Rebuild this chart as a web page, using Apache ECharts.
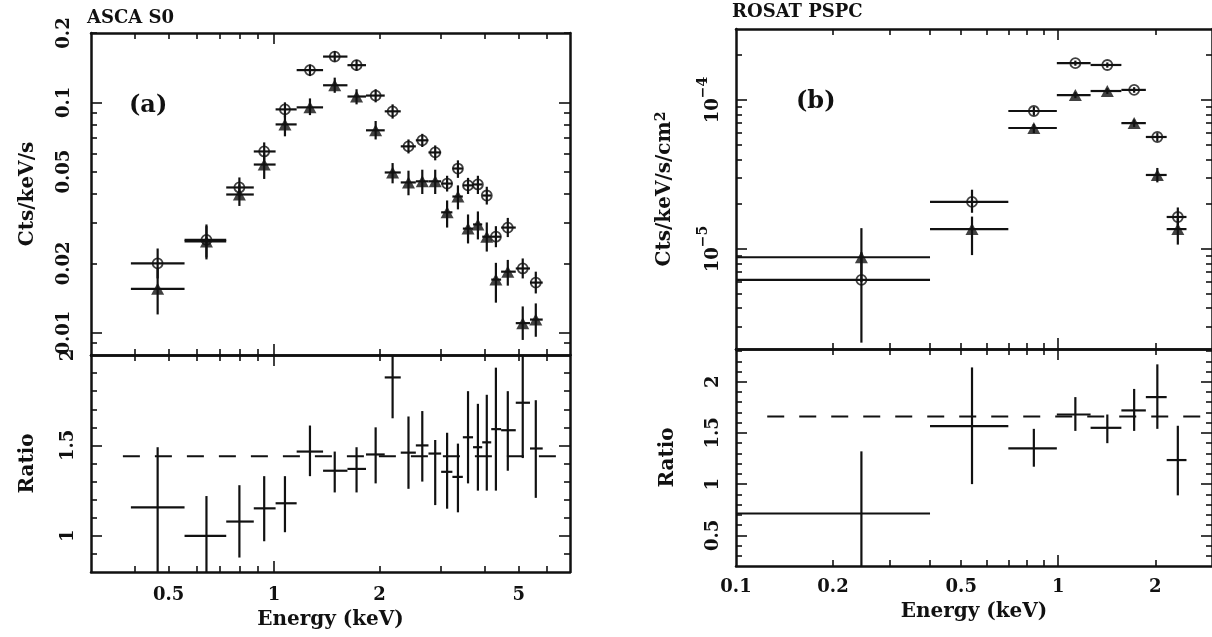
<!DOCTYPE html>
<html>
<head>
<meta charset="utf-8">
<script src="https://cdn.jsdelivr.net/npm/echarts@6/dist/echarts.min.js"></script>
<style>
  html, body { margin: 0; padding: 0; background: #fff; }
  #chart { width: 1212px; height: 637px; }
</style>
</head>
<body>
<div id="chart"></div>
<script>
// ---- ASCA S0 (panel a) ----
var ascaE    = [0.465, 0.641, 0.796, 0.937, 1.074, 1.266, 1.49, 1.72, 1.95, 2.18, 2.42, 2.65, 2.885, 3.12, 3.35, 3.58, 3.82, 4.05, 4.30, 4.65, 5.13, 5.59];
var ascaElo  = [0.39, 0.555, 0.73, 0.875, 1.01, 1.16, 1.38, 1.62, 1.83, 2.07, 2.3, 2.54, 2.76, 3.0, 3.23, 3.46, 3.7, 3.93, 4.17, 4.45, 4.9, 5.38];
var ascaEhi  = [0.555, 0.73, 0.875, 1.01, 1.16, 1.38, 1.62, 1.83, 2.07, 2.3, 2.54, 2.76, 3.0, 3.23, 3.46, 3.7, 3.93, 4.17, 4.45, 4.9, 5.38, 5.85];
var ascaCirc   = [0.0200, 0.0253, 0.0427, 0.0612, 0.0932, 0.138, 0.158, 0.145, 0.107, 0.0914, 0.0644, 0.0684, 0.0606, 0.0444, 0.0516, 0.0436, 0.0440, 0.0394, 0.0261, 0.0286, 0.0190, 0.0165];
var ascaCircLo = [0.0172, 0.0212, 0.0390, 0.0560, 0.0860, 0.130, 0.150, 0.137, 0.100, 0.085, 0.060, 0.064, 0.056, 0.041, 0.047, 0.040, 0.040, 0.036, 0.0235, 0.026, 0.0172, 0.0148];
var ascaCircHi = [0.0232, 0.0295, 0.0472, 0.0670, 0.1000, 0.146, 0.167, 0.153, 0.114, 0.098, 0.069, 0.073, 0.065, 0.048, 0.056, 0.047, 0.048, 0.043, 0.029, 0.0315, 0.0210, 0.0184];
var ascaTri    = [0.0155, 0.0249, 0.0398, 0.0537, 0.0802, 0.0951, 0.1186, 0.106, 0.0756, 0.0496, 0.0449, 0.0454, 0.0454, 0.0333, 0.0390, 0.0283, 0.0295, 0.0261, 0.0170, 0.0184, 0.0110, 0.0114];
var ascaTriLo  = [0.0120, 0.0208, 0.0355, 0.0465, 0.0712, 0.0880, 0.110, 0.098, 0.0690, 0.0445, 0.0395, 0.040, 0.040, 0.0286, 0.0343, 0.0244, 0.0254, 0.0225, 0.0135, 0.0160, 0.0093, 0.0096];
var ascaTriHi  = [0.0190, 0.0290, 0.0440, 0.060, 0.088, 0.104, 0.128, 0.114, 0.083, 0.0545, 0.0505, 0.051, 0.051, 0.0375, 0.0436, 0.0326, 0.0336, 0.0301, 0.0201, 0.0207, 0.0130, 0.0134];
var ascaRatio   = [1.157, 1.0, 1.079, 1.152, 1.18, 1.466, 1.36, 1.37, 1.45, 1.876, 1.46, 1.5, 1.455, 1.354, 1.326, 1.545, 1.49, 1.517, 1.59, 1.584, 1.736, 1.483];
var ascaRatioLo = [0.78, 0.78, 0.88, 0.97, 1.02, 1.33, 1.24, 1.24, 1.29, 1.65, 1.26, 1.3, 1.17, 1.15, 1.13, 1.29, 1.25, 1.25, 1.25, 1.36, 1.43, 1.21];
var ascaRatioHi = [1.49, 1.22, 1.28, 1.33, 1.33, 1.61, 1.466, 1.49, 1.6, 2.05, 1.66, 1.69, 1.53, 1.57, 1.51, 1.80, 1.73, 1.78, 1.93, 1.80, 2.05, 1.75];
var ascaModel = [[0.37, 1.44], [7, 1.44]];

// ---- ROSAT PSPC (panel b) ----
var rosatE   = [0.245, 0.54, 0.84, 1.13, 1.42, 1.72, 2.03, 2.35];
var rosatElo = [0.1, 0.40, 0.70, 0.99, 1.26, 1.57, 1.87, 2.17];
var rosatEhi = [0.40, 0.70, 0.99, 1.26, 1.57, 1.87, 2.17, 2.5];
var rosatCirc   = [6.2e-6, 2.07e-5, 8.44e-5, 1.77e-4, 1.72e-4, 1.17e-4, 5.65e-5, 1.64e-5];
var rosatCircLo = [2.35e-6, 1.75e-5, 7.9e-5, 1.70e-4, 1.65e-4, 1.12e-4, 5.3e-5, 1.45e-5];
var rosatCircHi = [9.5e-6, 2.5e-5, 9.0e-5, 1.84e-4, 1.79e-4, 1.22e-4, 6.0e-5, 1.9e-5];
var rosatTri    = [8.8e-6, 1.36e-5, 6.49e-5, 1.08e-4, 1.15e-4, 7.0e-5, 3.14e-5, 1.36e-5];
var rosatTriLo  = [6.0e-6, 9.1e-6, 6.0e-5, 1.03e-4, 1.10e-4, 6.6e-5, 2.8e-5, 1.07e-5];
var rosatTriHi  = [1.38e-5, 1.65e-5, 6.9e-5, 1.13e-4, 1.20e-4, 7.4e-5, 3.5e-5, 1.6e-5];
var rosatRatio   = [0.713, 1.567, 1.35, 1.68, 1.55, 1.72, 1.85, 1.235];
var rosatRatioLo = [0.15, 1.0, 1.17, 1.52, 1.40, 1.52, 1.54, 0.89];
var rosatRatioHi = [1.32, 2.14, 1.54, 1.85, 1.68, 1.93, 2.17, 1.57];
var rosatModel = [[0.125, 1.66], [3, 1.66]];

// ---- ticks and labels ----
var ascaXMinor = [0.4, 0.5, 0.6, 0.7, 0.8, 0.9, 2, 3, 4, 5, 6];
var ascaXMajor = [1];
var ascaXLabels = [0.5, 1, 2, 5];
var ascaYMinor = [0.009, 0.02, 0.03, 0.04, 0.05, 0.06, 0.07, 0.08, 0.09, 0.2];
var ascaYMajor = [0.01, 0.1];
var ascaYLabels = [0.01, 0.02, 0.05, 0.1, 0.2];
var ascaRMinor = [0.9, 1.1, 1.2, 1.3, 1.4, 1.6, 1.7, 1.8, 1.9];
var ascaRMajor = [1, 1.5];
var ascaRLabels = [1, 1.5, 2];

var rosatXMinor = [0.2, 0.3, 0.4, 0.5, 0.6, 0.7, 0.8, 0.9, 2];
var rosatXMajor = [1];
var rosatXLabels = [0.1, 0.2, 0.5, 1, 2];
var rosatYMinor = [3e-6, 4e-6, 5e-6, 6e-6, 7e-6, 8e-6, 9e-6, 2e-5, 3e-5, 4e-5, 5e-5, 6e-5, 7e-5, 8e-5, 9e-5, 2e-4];
var rosatYMajor = [1e-5, 1e-4];
var rosatYLabels = [1e-5, 1e-4];
var rosatYExp = ['\u22125', '\u22124'];
var rosatRMinor = [0.3, 0.4, 0.6, 0.7, 0.8, 0.9, 1.1, 1.2, 1.3, 1.4, 1.6, 1.7, 1.8, 1.9, 2.1, 2.2, 2.3];
var rosatRMajor = [0.5, 1, 1.5, 2];
var rosatRLabels = [0.5, 1, 1.5, 2];

var INK = '#111';
var FONT = 'DejaVu Serif';

// main axis + major-tick twin on one side, the same mirrored on the other side
function axisGroup(dim, grid, type, min, max, minorV, majorV, label) {
	var sides = dim === 'x' ? ['bottom', 'top'] : ['left', 'right'];
	var out = [];
	sides.forEach(function (pos, s) {
		[minorV, majorV].forEach(function (vals, k) {
			var ax = {
				type: type, gridIndex: grid, position: pos, min: min, max: max, logBase: 10,
				axisLine: {show: k === 0, onZero: false, lineStyle: {color: INK, width: 2.5}},
				axisTick: {show: true, inside: true, length: k === 0 ? 6 : 11, customValues: vals,
					lineStyle: {color: INK, width: 1.6}},
				splitLine: {show: false},
				minorTick: {show: false},
				axisLabel: {show: false}
			};
			if (s === 0 && k === 0 && label) {
				ax.axisLabel = {
					show: true, customValues: label.values, margin: label.margin,
					rotate: dim === 'y' ? 90 : 0,
					fontFamily: FONT, fontWeight: 'bold', fontSize: 18, color: INK,
					formatter: label.fmt || function (v) { return String(+v.toPrecision(3)); },
					rich: label.rich
				};
				if (label.name) {
					ax.name = label.name;
					ax.nameLocation = 'middle';
					ax.nameGap = label.nameGap;
					ax.nameTextStyle = {fontFamily: FONT, fontWeight: 'bold', fontSize: 20, color: INK,
						rich: {sup: {fontFamily: FONT, fontWeight: 'bold', fontSize: 14, color: INK,
							verticalAlign: 'top', padding: [0, 0, 8, 0]}}};
				}
			}
			out.push(ax);
		});
	});
	return out;
}

function rows(x, xlo, xhi, y, ylo, yhi) {
	return x.map(function (v, i) { return [v, xlo[i], xhi[i], y[i], ylo[i], yhi[i]]; });
}

function errBars(grid, data) {
	return {
		type: 'custom', xAxisIndex: grid * 4, yAxisIndex: grid * 4, clip: true, silent: true,
		data: data,
		renderItem: function (params, api) {
			var y = api.value(3), x = api.value(0);
			var a = api.coord([api.value(1), y]), b = api.coord([api.value(2), y]);
			var c = api.coord([x, api.value(4)]), d = api.coord([x, api.value(5)]);
			var st = {stroke: INK, lineWidth: 2.2};
			return {type: 'group', children: [
				{type: 'line', shape: {x1: a[0], y1: a[1], x2: b[0], y2: b[1]}, style: st},
				{type: 'line', shape: {x1: c[0], y1: c[1], x2: d[0], y2: d[1]}, style: st}
			]};
		}
	};
}

function marks(grid, x, y, kind) {
	var s = {
		type: 'scatter', xAxisIndex: grid * 4, yAxisIndex: grid * 4, silent: true,
		data: x.map(function (v, i) { return [v, y[i]]; })
	};
	if (kind === 'circle') {
		s.symbol = 'circle'; s.symbolSize = 10;
		s.itemStyle = {color: 'rgba(0,0,0,0)', borderColor: INK, borderWidth: 1.8};
	} else {
		s.symbol = 'triangle'; s.symbolSize = [13, 12];
		s.itemStyle = {color: INK};
	}
	return s;
}

function model(grid, data) {
	return {
		type: 'line', xAxisIndex: grid * 4, yAxisIndex: grid * 4, silent: true, clip: true,
		symbol: 'none', data: data,
		lineStyle: {color: INK, width: 2, type: [17, 15]}
	};
}

var xAxes = [].concat(
	axisGroup('x', 0, 'log', 0.3, 7, ascaXMinor, ascaXMajor, null),
	axisGroup('x', 1, 'log', 0.3, 7, ascaXMinor, ascaXMajor,
		{values: ascaXLabels, margin: 14, name: 'Energy (keV)', nameGap: 38}),
	axisGroup('x', 2, 'log', 0.1, 3, rosatXMinor, rosatXMajor, null),
	axisGroup('x', 3, 'log', 0.1, 3, rosatXMinor, rosatXMajor,
		{values: rosatXLabels, margin: 12, name: 'Energy (keV)', nameGap: 36})
);
var yAxes = [].concat(
	axisGroup('y', 0, 'log', 0.008, 0.2, ascaYMinor, ascaYMajor,
		{values: ascaYLabels, margin: 18, name: 'Cts/keV/s', nameGap: 53}),
	axisGroup('y', 1, 'value', 0.8, 2.0, ascaRMinor, ascaRMajor,
		{values: ascaRLabels, margin: 14, name: 'Ratio', nameGap: 53}),
	axisGroup('y', 2, 'log', 2.13e-6, 3e-4, rosatYMinor, rosatYMajor,
		{values: rosatYLabels, margin: 14, name: 'Cts/keV/s/cm{sup|2}', nameGap: 60,
		 fmt: function (v) { return '{b|10}{e|' + (v < 5e-5 ? rosatYExp[0] : rosatYExp[1]) + '}'; },
		 rich: {
			b: {fontFamily: FONT, fontWeight: 'bold', fontSize: 18, color: INK, lineHeight: 26, verticalAlign: 'bottom'},
			e: {fontFamily: FONT, fontWeight: 'bold', fontSize: 14, color: INK, lineHeight: 26, verticalAlign: 'top'}
		 }}),
	axisGroup('y', 3, 'value', 0.2, 2.32, rosatRMinor, rosatRMajor,
		{values: rosatRLabels, margin: 14, name: 'Ratio', nameGap: 58})
);

var option = {
	animation: false,
	backgroundColor: '#fff',
	title: [
		{text: 'ASCA S0', left: 87, top: 9, padding: 0,
		 textStyle: {fontFamily: FONT, fontWeight: 'bold', fontSize: 18, color: INK}},
		{text: 'ROSAT PSPC', left: 732, top: 3, padding: 0,
		 textStyle: {fontFamily: FONT, fontWeight: 'bold', fontSize: 18, color: INK}}
	],
	graphic: [
		{type: 'text', left: 129, top: 94, style: {text: '(a)', font: 'bold 24px "DejaVu Serif"', fill: INK}},
		{type: 'text', left: 796, top: 90, style: {text: '(b)', font: 'bold 24px "DejaVu Serif"', fill: INK}}
	],
	grid: [
		{left: 91, top: 33, width: 479, height: 322},
		{left: 91, top: 355, width: 479, height: 217},
		{left: 736, top: 29, width: 480, height: 320},
		{left: 736, top: 349, width: 480, height: 217}
	],
	xAxis: xAxes,
	yAxis: yAxes,
	series: [
		errBars(0, rows(ascaE, ascaElo, ascaEhi, ascaCirc, ascaCircLo, ascaCircHi)),
		errBars(0, rows(ascaE, ascaElo, ascaEhi, ascaTri, ascaTriLo, ascaTriHi)),
		marks(0, ascaE, ascaCirc, 'circle'),
		marks(0, ascaE, ascaTri, 'triangle'),
		model(1, ascaModel),
		errBars(1, rows(ascaE, ascaElo, ascaEhi, ascaRatio, ascaRatioLo, ascaRatioHi)),
		errBars(2, rows(rosatE, rosatElo, rosatEhi, rosatCirc, rosatCircLo, rosatCircHi)),
		errBars(2, rows(rosatE, rosatElo, rosatEhi, rosatTri, rosatTriLo, rosatTriHi)),
		marks(2, rosatE, rosatCirc, 'circle'),
		marks(2, rosatE, rosatTri, 'triangle'),
		model(3, rosatModel),
		errBars(3, rows(rosatE, rosatElo, rosatEhi, rosatRatio, rosatRatioLo, rosatRatioHi))
	]
};

var chart = echarts.init(document.getElementById('chart'));
chart.setOption(option);
</script>
</body>
</html>
